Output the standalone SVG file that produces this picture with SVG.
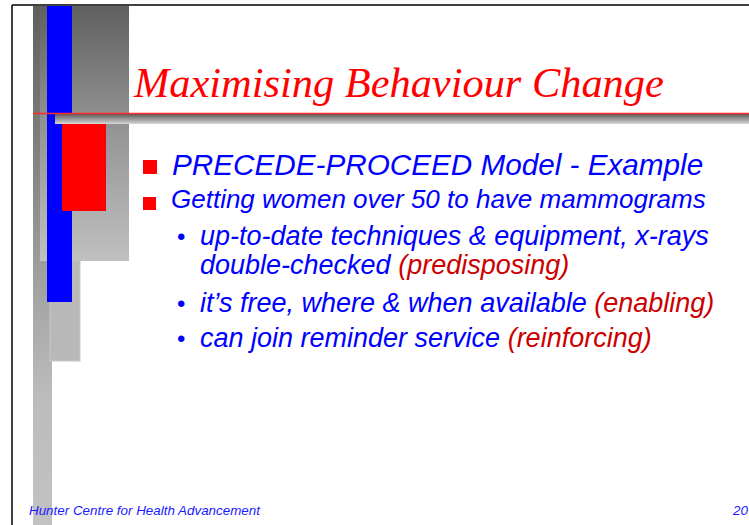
<svg xmlns="http://www.w3.org/2000/svg" width="749" height="525" viewBox="0 0 749 525">
  <defs>
    <linearGradient id="gStrip" x1="0" y1="6" x2="0" y2="525" gradientUnits="userSpaceOnUse">
      <stop offset="0" stop-color="#5e5e5e"/>
      <stop offset="0.75" stop-color="#bcbcbc"/>
      <stop offset="1" stop-color="#c2c2c2"/>
    </linearGradient>
    <linearGradient id="gTop" x1="0" y1="6" x2="0" y2="114" gradientUnits="userSpaceOnUse">
      <stop offset="0" stop-color="#5f5f5f"/>
      <stop offset="1" stop-color="#8f8f8f"/>
    </linearGradient>
    <linearGradient id="gLow" x1="0" y1="114" x2="0" y2="261" gradientUnits="userSpaceOnUse">
      <stop offset="0" stop-color="#8f8f8f"/>
      <stop offset="1" stop-color="#c0c0c0"/>
    </linearGradient>
    <linearGradient id="gBar" x1="0" y1="114" x2="0" y2="124" gradientUnits="userSpaceOnUse">
      <stop offset="0" stop-color="#5a5a5a"/>
      <stop offset="1" stop-color="#d8d8d8"/>
    </linearGradient>
  </defs>
  <style>
    .title { font-family: "Liberation Serif", "Times New Roman", serif; font-style: italic; font-size: 42.4px; fill: #ff0000; }
    .l1 { font-family: "Liberation Sans", Arial, sans-serif; font-style: italic; font-size: 29.7px; fill: #0000ff; }
    .l1b { font-family: "Liberation Sans", Arial, sans-serif; font-style: italic; font-size: 26px; fill: #0000ff; }
    .l2 { font-family: "Liberation Sans", Arial, sans-serif; font-style: italic; font-size: 27px; fill: #0000ff; }
    .dot { font-family: "Liberation Sans", Arial, sans-serif; font-size: 24px; fill: #0000ff; }
    .cat { fill: #cc0000; }
    .foot { font-family: "Liberation Sans", Arial, sans-serif; font-style: italic; font-size: 13.4px; fill: #1a1aff; }
    .sq { fill: #ff0000; }
  </style>

  <rect x="0" y="0" width="749" height="525" fill="#ffffff"/>

  <g id="frame">
    <line x1="12" y1="5" x2="749" y2="5" stroke="#000" stroke-width="1.5"/>
    <line x1="12" y1="5" x2="12" y2="525" stroke="#000" stroke-width="1.5"/>
  </g>

  <g id="decoration">
    <rect x="33" y="6" width="19" height="519" fill="url(#gStrip)"/>
    <rect x="50" y="250" width="30" height="111" fill="#b8b8b8" stroke="#c8c8c8" stroke-width="1"/>
    <rect x="40" y="6" width="89" height="108" fill="url(#gTop)"/>
    <rect x="40" y="114" width="89" height="147" fill="url(#gLow)"/>
    <rect x="47" y="6" width="25" height="296" fill="#0000ff"/>
    <rect x="55" y="114" width="694" height="10" fill="url(#gBar)"/>
    <line x1="33" y1="113.5" x2="749" y2="113.5" stroke="#ff2a2a" stroke-width="1.5"/>
    <rect x="62" y="124" width="44" height="87" fill="#ff0000"/>
  </g>

  <g id="title">
    <text class="title" x="134" y="97">Maximising Behaviour Change</text>
  </g>

  <g id="bullets">
    <rect class="sq" x="143" y="160" width="14" height="14"/>
    <text class="l1" x="172" y="175">PRECEDE-PROCEED Model - Example</text>
    <rect class="sq" x="143" y="197" width="13" height="13"/>
    <text class="l1b" x="171" y="208">Getting women over 50 to have mammograms</text>

    <text class="dot" x="177" y="245">•</text>
    <text class="l2" x="200" y="245">up-to-date techniques &amp; equipment, x-rays</text>
    <text class="l2" x="200" y="274">double-checked <tspan class="cat">(predisposing)</tspan></text>

    <text class="dot" x="177" y="312">•</text>
    <text class="l2" x="200" y="312">it’s free, where &amp; when available <tspan class="cat">(enabling)</tspan></text>

    <text class="dot" x="177" y="347">•</text>
    <text class="l2" x="200" y="347">can join reminder service <tspan class="cat">(reinforcing)</tspan></text>
  </g>

  <g id="footer">
    <text class="foot" x="29" y="515">Hunter Centre for Health Advancement</text>
    <text class="foot" x="733" y="515">20</text>
  </g>
</svg>
